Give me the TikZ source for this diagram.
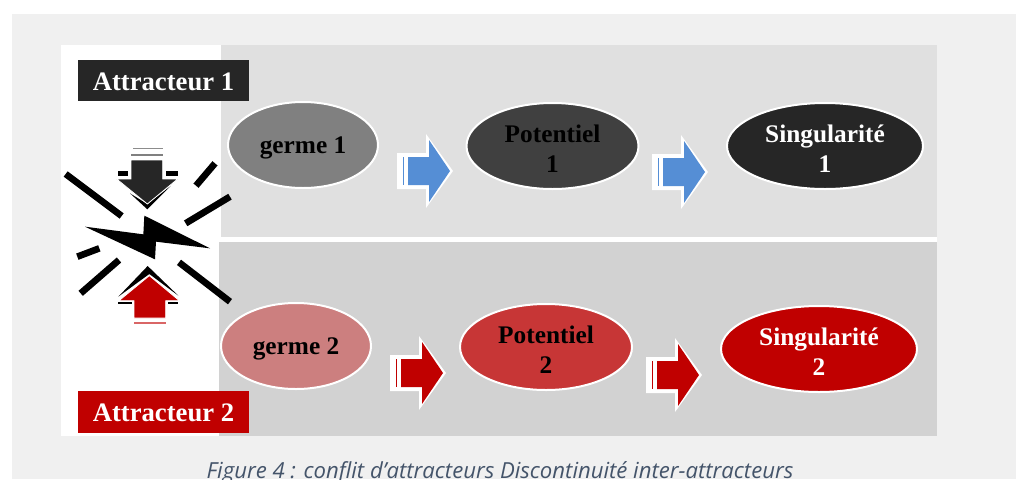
\documentclass[tikz,border=0pt]{standalone}
\usepackage{fontspec}
\setmainfont{Liberation Serif}
\newfontfamily\capfont{Open Sans}
\usetikzlibrary{shapes.geometric}
\definecolor{pagegray}{HTML}{F0F0F0}
\definecolor{bandA}{HTML}{E0E0E0}
\definecolor{bandB}{HTML}{D2D2D2}
\definecolor{darkA}{HTML}{262626}
\definecolor{redA}{HTML}{C00000}
\definecolor{blueA}{HTML}{558ED5}
\definecolor{capcol}{HTML}{44546A}
\newcommand{\lowtxt}[1]{\raisebox{-2.2pt}[\height][\depth]{#1}}
\newcommand{\lowtag}[1]{\raisebox{-0.8pt}[\height][\depth]{#1}}
\tikzset{
  stage/.style={ellipse,draw=white,line width=1.5pt,minimum width=#1*0.75pt,minimum height=64.5pt,inner sep=0pt,align=center,
    font=\fontsize{19}{22.5}\selectfont\bfseries},
  tag/.style={minimum width=128pt,inner sep=0pt,text=white,font=\fontsize{20}{24}\selectfont\bfseries},
  bar/.style={line width=5pt,black},
  pics/blockarrow/.style={code={
    \fill[white] (0,-18)--(29,-18)--(29,-37)--(56,0)--(29,37)--(29,18)--(0,18)--cycle;
    \fill[#1] (11,-14)--(32,-14)--(32,-31)--(53,0)--(32,31)--(32,14)--(11,14)--cycle;
    \fill[#1] (6,-14) rectangle (7,14);
  }}
}
\begin{document}
\begin{tikzpicture}[x=0.75pt,y=-0.75pt]
\useasboundingbox (0,0) rectangle (1016,479);
\fill[white] (0,0) rectangle (1016,479);
\fill[pagegray] (12,14) rectangle (1016,479);
\fill[white] (61,45) rectangle (937,436);
\fill[bandA] (221,45) rectangle (937,237);
\fill[bandB] (219,242) rectangle (937,436);

\node[tag,fill=darkA,minimum height=31pt] (t1) at (163.5,80.5) {\lowtag{Attracteur 1}};
\node[tag,fill=redA,minimum height=31.5pt] (t2) at (163.5,412) {\lowtag{Attracteur 2}};

\node[stage=150,fill=black!50,text=black] (g1) at (303,145) {\lowtxt{germe 1}};
\node[stage=172,fill=black!75,text=black] (p1) at (552.5,146) {\lowtxt{Potentiel}\\\lowtxt{1}};
\node[stage=196,fill=darkA,text=white] (s1) at (825,146) {\lowtxt{Singularité}\\\lowtxt{1}};
\node[stage=150,fill={rgb,255:red,204;green,127;blue,127},text=black] (g2) at (296,346) {\lowtxt{germe 2}};
\node[stage=172,fill={rgb,255:red,199;green,54;blue,54},text=black] (p2) at (546,347) {\lowtxt{Potentiel}\\\lowtxt{2}};
\node[stage=196,fill=redA,text=white] (s2) at (819,349) {\lowtxt{Singularité}\\\lowtxt{2}};

\pic at (397,171) {blockarrow=blueA};
\pic at (652,172) {blockarrow=blueA};
\pic at (390,373) {blockarrow=redA};
\pic at (646,375) {blockarrow=redA};

% conflict emblem, in 3x crop coordinates
\begin{scope}[shift={(50,130)},x=0.25pt,y=-0.25pt]
  \fill[black] (105,290)--(280,313)--(283,257)--(480,355)--(318,335)--(315,388)--cycle;
  \draw[bar] (47,132)--(215,258);
  \draw[bar] (495,100)--(438,167);
  \draw[bar] (540,200)--(407,280);
  \draw[bar] (148,355)--(82,380);
  \draw[bar] (207,390)--(92,490);
  \draw[bar] (387,397)--(540,515);
  % down arrow
  \fill[black!45] (248,54) rectangle (338,57);
  \fill[black!50] (243,72) rectangle (338,78);
  \fill[black] (205,122) rectangle (235,138);
  \fill[black] (347,122) rectangle (383,138);
  \fill[black] (240,190)--(292,238)--(362,168)--(292,222)--cycle;
  \fill[darkA,draw=white,line width=.6pt] (243,90)--(338,90)--(338,147)--(383,147)--(292,222)--(200,147)--(243,147)--cycle;
  % up arrow
  \fill[black] (205,500)--(293,408)--(385,497)--(298,432)--cycle;
  \fill[black] (205,517) rectangle (245,523);
  \fill[black] (355,517) rectangle (383,523);
  \fill[redA,draw=white,line width=.6pt] (298,437)--(388,512)--(347,512)--(347,564)--(252,564)--(252,512)--(207,512)--cycle;
  \fill[redA!60] (252,577) rectangle (347,582);
\end{scope}

\node[text=capcol,font=\capfont\itshape\fontsize{16.6}{20}\selectfont,inner sep=0pt,anchor=base] (cap) at (500,478) {Figure 4 : conflit d’attracteurs Discontinuité inter-attracteurs};
\end{tikzpicture}
\end{document}
